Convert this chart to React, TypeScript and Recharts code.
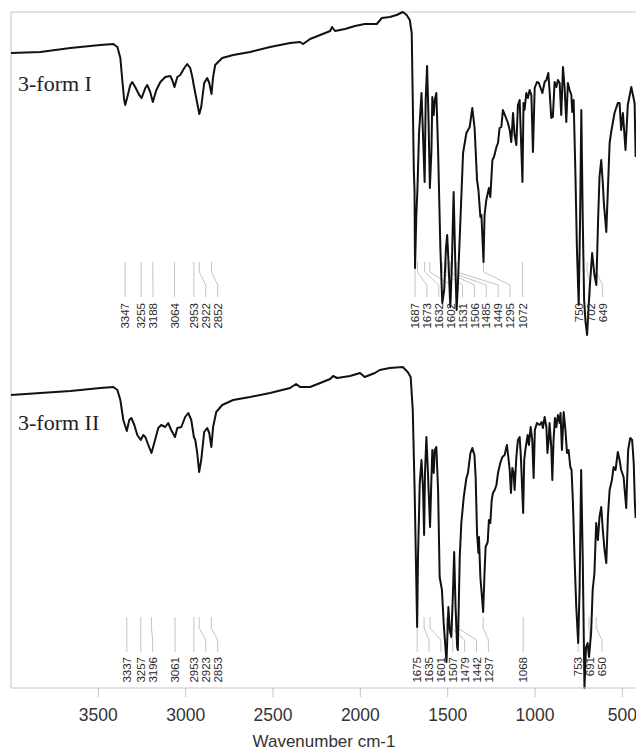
import {
  ComposedChart,
  Line,
  Scatter,
  XAxis,
  YAxis,
  ReferenceLine,
} from 'recharts';

// IR spectra, [wavenumber cm-1, offset transmittance a.u.]
const FORM_I: [number, number][] = [
  [4000, 635], [3832, 636], [3660, 640], [3489, 643], [3414, 644], [3391, 641], [3374, 630], [3363, 608],
  [3352, 588], [3346, 583], [3334, 591], [3317, 603], [3306, 606], [3289, 601], [3266, 593], [3252, 590],
  [3231, 600], [3220, 603], [3203, 596], [3188, 586], [3168, 598], [3145, 606], [3117, 611], [3088, 612],
  [3077, 608], [3064, 601], [3048, 611], [3031, 613], [3008, 620], [2991, 624], [2974, 620], [2962, 611],
  [2953, 602], [2934, 585], [2922, 574], [2911, 581], [2894, 605], [2877, 610], [2865, 605], [2852, 594],
  [2843, 611], [2831, 623], [2791, 630], [2728, 633], [2631, 636], [2517, 641], [2402, 645], [2345, 646],
  [2328, 644], [2288, 649], [2230, 653], [2173, 657], [2162, 661], [2145, 657], [2088, 659], [2031, 662],
  [1975, 664], [1906, 664], [1877, 670], [1832, 671], [1792, 673], [1757, 676], [1735, 673], [1717, 668],
  [1706, 655], [1700, 588], [1694, 518], [1690, 498], [1687, 420], [1680, 470], [1673, 500], [1664, 555],
  [1650, 595], [1645, 571], [1632, 506], [1626, 588], [1618, 622], [1610, 571], [1602, 500], [1593, 538],
  [1588, 591], [1580, 573], [1574, 588], [1565, 595], [1555, 538], [1542, 440], [1531, 385], [1520, 398],
  [1510, 440], [1503, 453], [1496, 428], [1485, 381], [1477, 418], [1466, 496], [1457, 428], [1449, 378],
  [1443, 398], [1431, 451], [1412, 535], [1393, 555], [1374, 561], [1359, 580], [1346, 560], [1332, 508],
  [1324, 498], [1313, 471], [1307, 473], [1295, 426], [1289, 473], [1279, 488], [1269, 496], [1264, 500],
  [1256, 491], [1244, 528], [1235, 531], [1221, 541], [1212, 545], [1203, 560], [1193, 561], [1184, 578],
  [1168, 571], [1155, 565], [1145, 558], [1136, 546], [1126, 575], [1117, 553], [1107, 543], [1098, 583],
  [1088, 588], [1072, 506], [1066, 585], [1060, 578], [1050, 595], [1041, 590], [1031, 598], [1021, 593],
  [1012, 536], [1002, 600], [989, 606], [978, 605], [970, 601], [958, 595], [945, 606], [935, 608],
  [924, 615], [917, 598], [907, 570], [898, 571], [888, 606], [878, 601], [869, 608], [859, 605],
  [850, 573], [840, 621], [831, 601], [821, 566], [812, 605], [802, 598], [792, 593], [787, 576],
  [779, 588], [769, 515], [760, 438], [750, 383], [742, 470], [735, 578], [727, 470], [719, 388],
  [711, 366], [702, 353], [688, 398], [673, 435], [660, 413], [649, 403], [639, 468], [631, 511],
  [621, 528], [612, 505], [606, 485], [592, 456], [573, 545], [564, 556], [545, 575], [526, 585],
  [516, 585], [507, 558], [497, 575], [482, 538], [469, 583], [449, 601], [430, 585], [424, 531],
];

const FORM_II: [number, number][] = [
  [4000, 293], [3832, 295], [3660, 297], [3489, 300], [3414, 301], [3391, 298], [3374, 288], [3357, 268],
  [3337, 257], [3323, 268], [3311, 270], [3294, 263], [3277, 253], [3257, 248], [3243, 253], [3231, 251],
  [3214, 243], [3196, 235], [3180, 245], [3157, 260], [3140, 263], [3117, 261], [3100, 265], [3083, 258],
  [3061, 251], [3048, 260], [3025, 261], [3003, 271], [2985, 275], [2968, 268], [2953, 251], [2945, 248],
  [2934, 235], [2923, 216], [2911, 228], [2894, 256], [2877, 260], [2865, 255], [2853, 241], [2843, 261],
  [2825, 276], [2791, 283], [2728, 288], [2631, 291], [2517, 295], [2402, 300], [2368, 304], [2345, 301],
  [2288, 301], [2230, 305], [2173, 309], [2156, 312], [2133, 310], [2059, 312], [2002, 315], [1975, 311],
  [1917, 315], [1889, 318], [1832, 320], [1757, 321], [1729, 316], [1712, 311], [1700, 278], [1689, 195],
  [1675, 61], [1670, 131], [1660, 205], [1650, 228], [1641, 198], [1635, 153], [1630, 215], [1622, 251],
  [1613, 215], [1601, 161], [1593, 211], [1588, 238], [1580, 215], [1574, 238], [1565, 241], [1555, 198],
  [1546, 111], [1533, 98], [1523, 65], [1507, 26], [1496, 81], [1488, 58], [1479, 51], [1470, 95],
  [1463, 136], [1455, 81], [1446, 41], [1442, 38], [1431, 131], [1422, 165], [1408, 191], [1393, 210],
  [1384, 215], [1370, 235], [1359, 240], [1347, 233], [1340, 211], [1332, 155], [1324, 135], [1321, 151],
  [1313, 111], [1297, 76], [1290, 111], [1283, 141], [1271, 146], [1264, 168], [1256, 165], [1248, 188],
  [1241, 195], [1231, 198], [1221, 203], [1212, 215], [1199, 225], [1187, 231], [1174, 233], [1161, 243],
  [1153, 231], [1145, 218], [1138, 195], [1130, 220], [1122, 215], [1117, 198], [1107, 231], [1098, 248],
  [1088, 251], [1081, 231], [1068, 175], [1062, 228], [1054, 240], [1042, 253], [1035, 243], [1025, 261],
  [1016, 248], [1008, 210], [1001, 258], [989, 265], [974, 263], [962, 266], [955, 260], [945, 271],
  [935, 261], [929, 235], [922, 248], [917, 265], [907, 241], [901, 208], [894, 248], [886, 270],
  [878, 261], [869, 273], [859, 265], [854, 275], [846, 238], [836, 276], [826, 258], [817, 235],
  [808, 238], [798, 221], [791, 218], [783, 185], [774, 131], [764, 81], [753, 45], [745, 98],
  [736, 218], [727, 131], [717, 0], [708, 41], [699, 45], [691, 31], [679, 55], [670, 98],
  [660, 115], [650, 165], [640, 148], [631, 171], [621, 181], [612, 158], [602, 138], [592, 125],
  [583, 171], [573, 198], [560, 208], [550, 221], [539, 218], [526, 236], [516, 228], [507, 218],
  [493, 211], [478, 180], [467, 238], [455, 250], [444, 248], [435, 225], [429, 188], [424, 170],
];

const PEAKS_I = [3347, 3255, 3188, 3064, 2953, 2922, 2852, 1687, 1673, 1632, 1602, 1531, 1506, 1485, 1449, 1295, 1072, 750, 702, 649];
const PEAKS_II = [3337, 3257, 3196, 3061, 2953, 2923, 2853, 1675, 1635, 1601, 1507, 1479, 1442, 1297, 1068, 753, 691, 650];

const WN_TICKS = [3500, 3000, 2500, 2000, 1500, 1000, 500];

// leader line levels (same a.u. as the spectra)
const LEADER_I = { top: 426, bend1: 416, bend2: 403, bottom: 391, text: 385 };
const LEADER_II = { top: 71, bend1: 60, bend2: 48, bottom: 36, text: 31 };
const LABEL_GAP = 68; // min spacing between labels, cm-1

const toPoints = (arr: [number, number][]) => arr.map(([wn, v]) => ({ wn, v }));

type Leader = { peak: number; label: number };

function spreadLabels(peaks: number[]): Leader[] {
  const out: Leader[] = [];
  let prev = Infinity;
  peaks.forEach((p) => {
    const label = Math.min(p, prev - LABEL_GAP);
    out.push({ peak: p, label });
    prev = label;
  });
  return out;
}

type Level = typeof LEADER_I;

function leaderData(l: Leader, lv: Level) {
  return [
    { wn: l.peak, v: lv.top },
    { wn: l.peak, v: lv.bend1 },
    { wn: l.label, v: lv.bend2 },
    { wn: l.label, v: lv.bottom },
  ];
}

const GRAY = '#c4c4c4';
const SANS = '"Liberation Sans", Arial, sans-serif';
const SERIF = '"Liberation Serif", "Times New Roman", serif';

function PeakLabel(props: any) {
  const { cx, cy, payload } = props;
  if (cx == null || cy == null) return null;
  return (
    <text
      x={cx}
      y={cy}
      dy="0.36em"
      transform={`rotate(-90 ${cx} ${cy})`}
      textAnchor="end"
      fontSize={11.5}
      fontFamily={SANS}
      fill="#2a2a2a"
    >
      {payload.peak}
    </text>
  );
}

function renderLeaders(peaks: number[], lv: Level, prefix: string) {
  const leaders = spreadLabels(peaks);
  const labelPts = leaders.map((l) => ({ wn: l.label, v: lv.text, peak: l.peak }));
  return [
    ...leaders.map((l) => (
      <Line
        key={`${prefix}-${l.peak}`}
        data={leaderData(l, lv)}
        dataKey="v"
        stroke={GRAY}
        strokeWidth={1}
        dot={false}
        activeDot={false}
        isAnimationActive={false}
      />
    )),
    <Scatter
      key={`${prefix}-labels`}
      data={labelPts}
      dataKey="v"
      shape={PeakLabel}
      isAnimationActive={false}
    />,
  ];
}

export default function App() {
  return (
    <div
      style={{
        position: 'absolute',
        left: 0,
        top: 0,
        width: 636,
        height: 750,
        background: '#fff',
      }}
    >
      <ComposedChart
        width={636}
        height={750}
        margin={{ top: 12, right: 0, left: 11, bottom: 22 }}
      >
        <XAxis
          type="number"
          dataKey="wn"
          domain={[422, 4000]}
          reversed
          ticks={WN_TICKS}
          height={40}
          stroke={GRAY}
          tickSize={9}
          tickMargin={12}
          tick={{ fill: '#333', fontSize: 17.5, fontFamily: SANS }}
        />
        <YAxis type="number" dataKey="v" domain={[0, 676]} hide />

        <ReferenceLine y={676} stroke={GRAY} strokeWidth={1} />
        <ReferenceLine x={4000} stroke={GRAY} strokeWidth={1} />

        {renderLeaders(PEAKS_I, LEADER_I, 'i')}
        {renderLeaders(PEAKS_II, LEADER_II, 'ii')}

        <Line
          data={toPoints(FORM_I)}
          dataKey="v"
          stroke="#111"
          strokeWidth={2}
          strokeLinejoin="round"
          dot={false}
          activeDot={false}
          isAnimationActive={false}
        />
        <Line
          data={toPoints(FORM_II)}
          dataKey="v"
          stroke="#111"
          strokeWidth={2}
          strokeLinejoin="round"
          dot={false}
          activeDot={false}
          isAnimationActive={false}
        />

        <text x={18} y={91} fontSize={22} fontFamily={SERIF} fill="#222">
          3-form I
        </text>
        <text x={18} y={430} fontSize={22} fontFamily={SERIF} fill="#222">
          3-form II
        </text>
        <text x={324} y={747} textAnchor="middle" fontSize={17} fontFamily={SANS} fill="#333">
          Wavenumber cm-1
        </text>
      </ComposedChart>
    </div>
  );
}
